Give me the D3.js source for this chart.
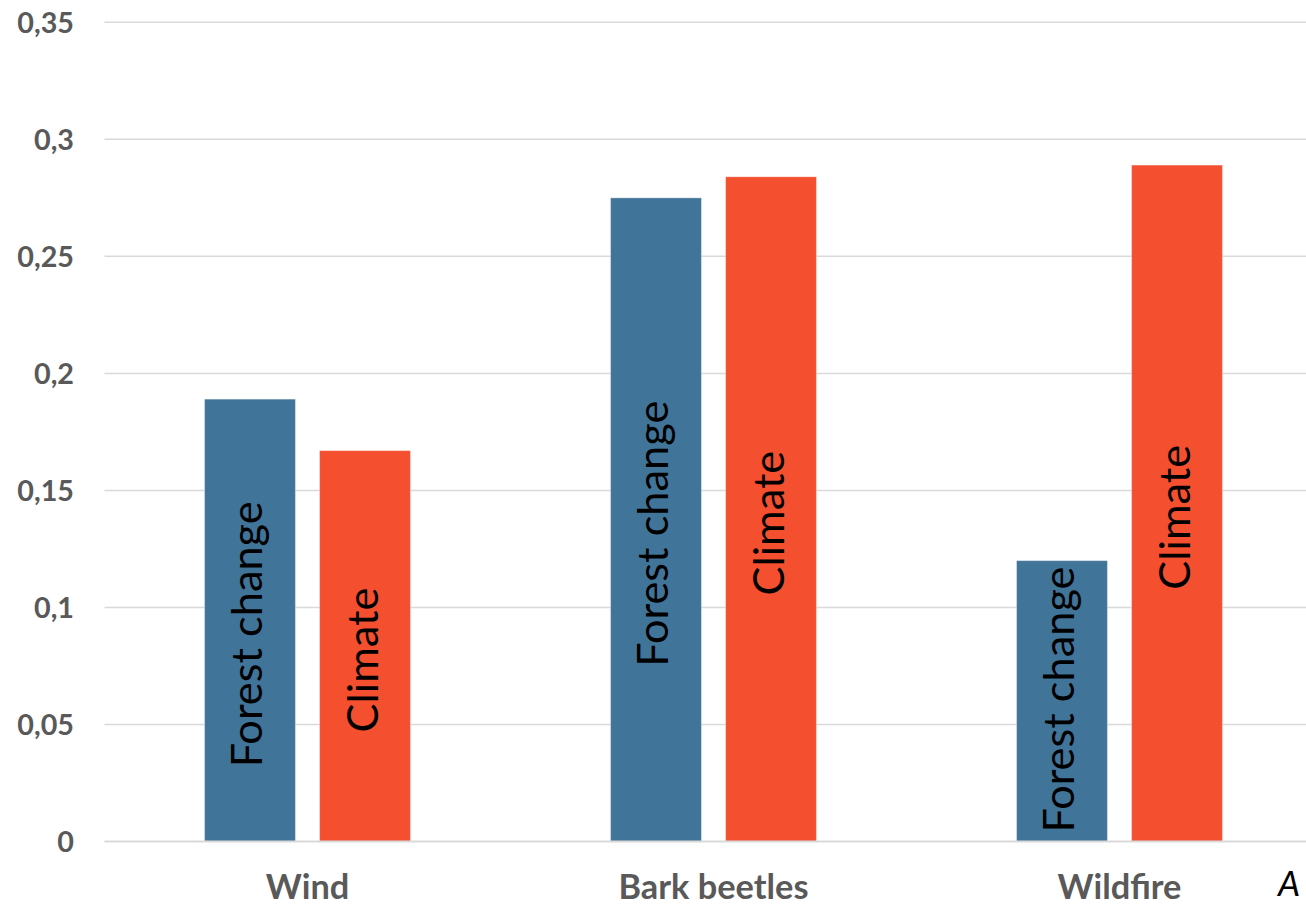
<!DOCTYPE html>
<html>
<head>
<meta charset="utf-8">
<script src="https://cdn.jsdelivr.net/npm/d3@7"></script>
<style>
  html, body { margin: 0; padding: 0; background: #ffffff; overflow: hidden; }
  svg { display: block; }
</style>
</head>
<body>
<svg id="chart" width="1306" height="906"></svg>
<script>
// ---- data ----
const categories = ["Wind", "Bark beetles", "Wildfire"];
const seriesNames = ["Forest change", "Climate"];
const forestChange = [0.189, 0.275, 0.12];
const climate = [0.167, 0.284, 0.289];
const yTicks = [0, 0.05, 0.1, 0.15, 0.2, 0.25, 0.3, 0.35];
const yTickLabels = ["0", "0,05", "0,1", "0,15", "0,2", "0,25", "0,3", "0,35"];
const panelLabel = "A";

const seriesValues = [forestChange, climate];
const colors = ["#417499", "#f44f2e"];

const svg = d3.select("#chart");
const plot = { left: 104.5, right: 1322.5, top: 22.3, bottom: 841.5 };

const x0 = d3.scaleBand().domain(categories).range([plot.left, plot.right]).padding(0);
const x1 = d3.scaleBand().domain(seriesNames).range([0, x0.bandwidth()])
  .paddingInner(0.21).paddingOuter(0.87);
const y = d3.scaleLinear().domain([0, 0.35]).range([plot.bottom, plot.top]);

// gridlines
svg.append("g").selectAll("line").data(yTicks.filter(d => d > 0)).join("line")
  .attr("x1", plot.left).attr("x2", plot.right)
  .attr("y1", d => y(d)).attr("y2", d => y(d))
  .attr("stroke", "#d9d9d9").attr("stroke-width", 1.5);

// y axis labels
const yAxis = d3.axisLeft(y).tickValues(yTicks)
  .tickFormat((d, i) => yTickLabels[i]).tickSize(0).tickPadding(0);
const yg = svg.append("g").attr("transform", "translate(74,0)").call(yAxis);
yg.select(".domain").remove();
yg.selectAll("text")
  .attr("x", 0).attr("dy", "0.36em")
  .style("font-family", "Lato, 'Open Sans', sans-serif")
  .style("font-weight", "bold").style("font-size", "28px")
  .attr("fill", "#595959").attr("text-anchor", "end");

// bars
const data = [];
categories.forEach((c, ci) => {
  seriesNames.forEach((s, si) => {
    data.push({ cat: c, series: s, si, value: seriesValues[si][ci] });
  });
});

svg.append("g").selectAll("rect").data(data).join("rect")
  .attr("x", d => x0(d.cat) + x1(d.series))
  .attr("width", x1.bandwidth())
  .attr("y", d => y(d.value))
  .attr("height", d => y(0) - y(d.value))
  .attr("fill", d => colors[d.si])
  .attr("stroke", "rgba(255,255,255,0.35)").attr("stroke-width", 1);

// baseline axis
svg.append("line")
  .attr("x1", plot.left).attr("x2", plot.right)
  .attr("y1", y(0)).attr("y2", y(0))
  .attr("stroke", "#d9d9d9").attr("stroke-width", 2);

// bar labels (rotated)
const labels = svg.append("g").selectAll("text").data(data).join("text")
  .text(d => d.series)
  .attr("text-anchor", "middle")
  .style("font-family", "Lato, 'Open Sans', sans-serif")
  .style("font-size", "42px")
  .attr("fill", "#000000");

{
  const node = labels.filter(d => d.series === "Forest change").node();
  const len = node.getComputedTextLength();
  labels.style("font-size", (42 * 266 / len) + "px");
}
labels.attr("transform", function (d) {
  const len = this.getComputedTextLength();
  const cx = x0(d.cat) + x1(d.series) + x1.bandwidth() / 2 + 12.5;
  const cy = Math.min((y(d.value) + y(0)) / 2 + 14, y(0) - 9 - len / 2);
  return `translate(${cx},${cy}) rotate(-90)`;
});

// category labels
const xAxis = d3.axisBottom(x0).tickSize(0).tickPadding(0);
const xg = svg.append("g").attr("transform", "translate(0,898.5)").call(xAxis);
xg.select(".domain").remove();
xg.selectAll("text")
  .attr("y", 0).attr("dy", 0)
  .style("font-family", "Lato, 'Open Sans', sans-serif")
  .style("font-weight", "bold").style("font-size", "28px")
  .attr("fill", "#595959");
{
  const node = xg.selectAll("text").filter(d => d === "Bark beetles").node();
  const len = node.getComputedTextLength();
  xg.selectAll("text").style("font-size", (28 * 190 / len) + "px");
}
{
  const node = yg.selectAll("text").filter(d => d === 0.05).node();
  const len = node.getComputedTextLength();
  yg.selectAll("text").style("font-size", (28 * 56.7 / len) + "px");
}

// panel label, kept fully inside the picture
svg.append("text").text(panelLabel)
  .attr("x", 1300).attr("y", 896)
  .attr("text-anchor", "end")
  .style("font-family", "Lato, 'Open Sans', sans-serif")
  .style("font-style", "italic").style("font-size", "35px")
  .attr("fill", "#000000");
</script>
</body>
</html>
